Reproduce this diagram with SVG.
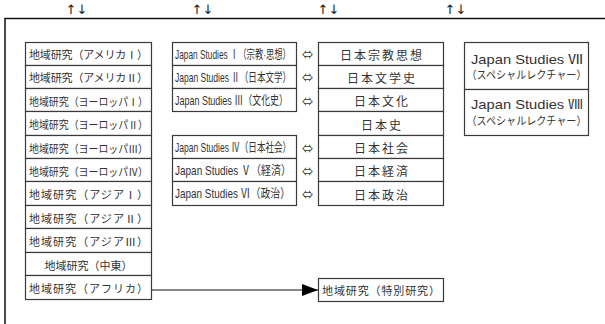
<svg xmlns="http://www.w3.org/2000/svg" width="605" height="324" viewBox="0 0 605 324">
<defs>
<style>
.box{fill:#fff;stroke:#3a3a3a;stroke-width:1.2}
.t{font-family:"Noto Sans CJK JP","Liberation Sans",sans-serif;font-size:11px;fill:#333;dominant-baseline:central}
.js{font-family:"Liberation Sans","Noto Sans CJK JP",sans-serif;font-size:12.5px;fill:#333;dominant-baseline:central}
.r{font-family:"Noto Sans CJK JP",sans-serif;font-size:12px;fill:#333;dominant-baseline:central;text-anchor:middle;letter-spacing:2px}
.sp{font-family:"Liberation Sans","Noto Sans CJK JP",sans-serif;font-size:13px;fill:#333;dominant-baseline:central;text-anchor:middle}
.sp2{font-family:"Noto Sans CJK JP",sans-serif;font-size:11px;fill:#333;dominant-baseline:central;text-anchor:middle}
.ar{font-family:"DejaVu Sans",sans-serif;font-size:13px;fill:#222;text-anchor:middle}
.eq{font-family:"Noto Sans CJK JP",sans-serif;font-size:11px;fill:#333;text-anchor:middle;dominant-baseline:central}
.frame{fill:none;stroke:#111;stroke-width:1.5}
</style>
<marker id="ah" viewBox="0 0 16 12" refX="16" refY="6" markerWidth="16" markerHeight="12" markerUnits="userSpaceOnUse" orient="auto">
<path d="M0,0 L16,6 L0,12 Z" fill="#000"/>
</marker>
</defs>

<g id="frame">
<path class="frame" d="M5,324 V18.5 H605"/>
<text class="ar" x="71" y="14">↑</text><text class="ar" x="82" y="14">↓</text>
<text class="ar" x="197" y="14">↑</text><text class="ar" x="208" y="14">↓</text>
<text class="ar" x="323" y="14">↑</text><text class="ar" x="334" y="14">↓</text>
<text class="ar" x="450" y="14">↑</text><text class="ar" x="461" y="14">↓</text>
</g>

<g id="left-column">
<g id="area-america1"><rect class="box" x="25.5" y="42.5" width="126" height="23"/><text class="t" x="29" y="54" textLength="119" lengthAdjust="spacing">地域研究（アメリカⅠ）</text></g>
<g id="area-america2"><rect class="box" x="25.5" y="65.5" width="126" height="23"/><text class="t" x="29" y="77" textLength="119" lengthAdjust="spacing">地域研究（アメリカⅡ）</text></g>
<g id="area-europe1"><rect class="box" x="25.5" y="88.5" width="126" height="23"/><text class="t" x="29" y="100.5" textLength="119" lengthAdjust="spacingAndGlyphs">地域研究（ヨーロッパⅠ）</text></g>
<g id="area-europe2"><rect class="box" x="25.5" y="111.5" width="126" height="24"/><text class="t" x="29" y="124" textLength="119" lengthAdjust="spacingAndGlyphs">地域研究（ヨーロッパⅡ）</text></g>
<g id="area-europe3"><rect class="box" x="25.5" y="135.5" width="126" height="23"/><text class="t" x="29" y="147.5" textLength="119" lengthAdjust="spacingAndGlyphs">地域研究（ヨーロッパⅢ）</text></g>
<g id="area-europe4"><rect class="box" x="25.5" y="158.5" width="126" height="23"/><text class="t" x="29" y="170.5" textLength="119" lengthAdjust="spacingAndGlyphs">地域研究（ヨーロッパⅣ）</text></g>
<g id="area-asia1"><rect class="box" x="25.5" y="181.5" width="126" height="24"/><text class="t" x="29" y="194" textLength="119" lengthAdjust="spacing">地域研究（アジアⅠ）</text></g>
<g id="area-asia2"><rect class="box" x="25.5" y="205.5" width="126" height="23"/><text class="t" x="29" y="217.5" textLength="119" lengthAdjust="spacing">地域研究（アジアⅡ）</text></g>
<g id="area-asia3"><rect class="box" x="25.5" y="228.5" width="126" height="24"/><text class="t" x="29" y="241" textLength="119" lengthAdjust="spacing">地域研究（アジアⅢ）</text></g>
<g id="area-mideast"><rect class="box" x="25.5" y="252.5" width="126" height="23"/><text class="t" x="88.5" y="264.5" text-anchor="middle">地域研究（中東）</text></g>
<g id="area-africa"><rect class="box" x="25.5" y="275.5" width="126" height="24"/><text class="t" x="29" y="288" textLength="119" lengthAdjust="spacing">地域研究（アフリカ）</text></g>
</g>

<g id="middle-column">
<g id="js1"><rect class="box" x="172.5" y="42.5" width="124" height="23"/><text class="js" transform="translate(175,54) scale(0.67,1)" x="0" y="0" textLength="173" lengthAdjust="spacingAndGlyphs">Japan Studies Ⅰ（宗教·思想）</text></g>
<g id="js2"><rect class="box" x="172.5" y="65.5" width="124" height="23"/><text class="js" transform="translate(175,77) scale(0.68,1)" x="0" y="0" textLength="170.5" lengthAdjust="spacingAndGlyphs">Japan Studies Ⅱ（日本文学）</text></g>
<g id="js3"><rect class="box" x="172.5" y="88.5" width="124" height="23"/><text class="js" transform="translate(175,100.5) scale(0.72,1)" x="0" y="0" textLength="157" lengthAdjust="spacingAndGlyphs">Japan Studies Ⅲ（文化史）</text></g>
<g id="js4"><rect class="box" x="172.5" y="135.5" width="124" height="23"/><text class="js" transform="translate(175,147.5) scale(0.68,1)" x="0" y="0" textLength="170.5" lengthAdjust="spacingAndGlyphs">Japan Studies Ⅳ（日本社会）</text></g>
<g id="js5"><rect class="box" x="172.5" y="158.5" width="124" height="23"/><text class="js" transform="translate(175,170.5) scale(0.8,1)" x="0" y="0" textLength="145" lengthAdjust="spacingAndGlyphs">Japan Studies Ⅴ（経済）</text></g>
<g id="js6"><rect class="box" x="172.5" y="181.5" width="124" height="24"/><text class="js" transform="translate(175,194) scale(0.8,1)" x="0" y="0" textLength="144" lengthAdjust="spacingAndGlyphs">Japan Studies Ⅵ（政治）</text></g>
</g>

<g id="right-column">
<g id="jp-religion"><rect class="box" x="318.5" y="42.5" width="125" height="23"/><text class="r" x="382" y="54">日本宗教思想</text></g>
<g id="jp-literature"><rect class="box" x="318.5" y="65.5" width="125" height="23"/><text class="r" x="382" y="77">日本文学史</text></g>
<g id="jp-culture"><rect class="box" x="318.5" y="88.5" width="125" height="23"/><text class="r" x="382" y="100.5">日本文化</text></g>
<g id="jp-history"><rect class="box" x="318.5" y="111.5" width="125" height="24"/><text class="r" x="382" y="124">日本史</text></g>
<g id="jp-society"><rect class="box" x="318.5" y="135.5" width="125" height="23"/><text class="r" x="382" y="147.5">日本社会</text></g>
<g id="jp-economy"><rect class="box" x="318.5" y="158.5" width="125" height="23"/><text class="r" x="382" y="170.5">日本経済</text></g>
<g id="jp-politics"><rect class="box" x="318.5" y="181.5" width="125" height="24"/><text class="r" x="382" y="194">日本政治</text></g>
</g>

<g id="special">
<g id="js7"><rect class="box" x="464.5" y="42.5" width="124" height="47"/><text class="sp" x="527" y="59" textLength="112" lengthAdjust="spacingAndGlyphs">Japan Studies Ⅶ</text><text class="sp2" x="526.5" y="73.5" textLength="120" lengthAdjust="spacingAndGlyphs">（スペシャルレクチャー）</text></g>
<g id="js8"><rect class="box" x="464.5" y="89.5" width="124" height="46"/><text class="sp" x="527" y="104.5" textLength="112" lengthAdjust="spacingAndGlyphs">Japan Studies Ⅷ</text><text class="sp2" x="526.5" y="119.5" textLength="120" lengthAdjust="spacingAndGlyphs">（スペシャルレクチャー）</text></g>
</g>

<g id="special-research"><rect class="box" x="318.5" y="278.5" width="125" height="23"/><text class="t" x="322" y="290" textLength="118" lengthAdjust="spacing">地域研究（特別研究）</text></g>

<g id="connectors">
<text class="eq" x="307.5" y="54">⇔</text>
<text class="eq" x="307.5" y="77">⇔</text>
<text class="eq" x="307.5" y="100.5">⇔</text>
<text class="eq" x="307.5" y="147.5">⇔</text>
<text class="eq" x="307.5" y="170.5">⇔</text>
<text class="eq" x="307.5" y="194">⇔</text>
<line x1="152" y1="290" x2="318" y2="290" stroke="#111" stroke-width="1.2" marker-end="url(#ah)"/>
</g>
</svg>
